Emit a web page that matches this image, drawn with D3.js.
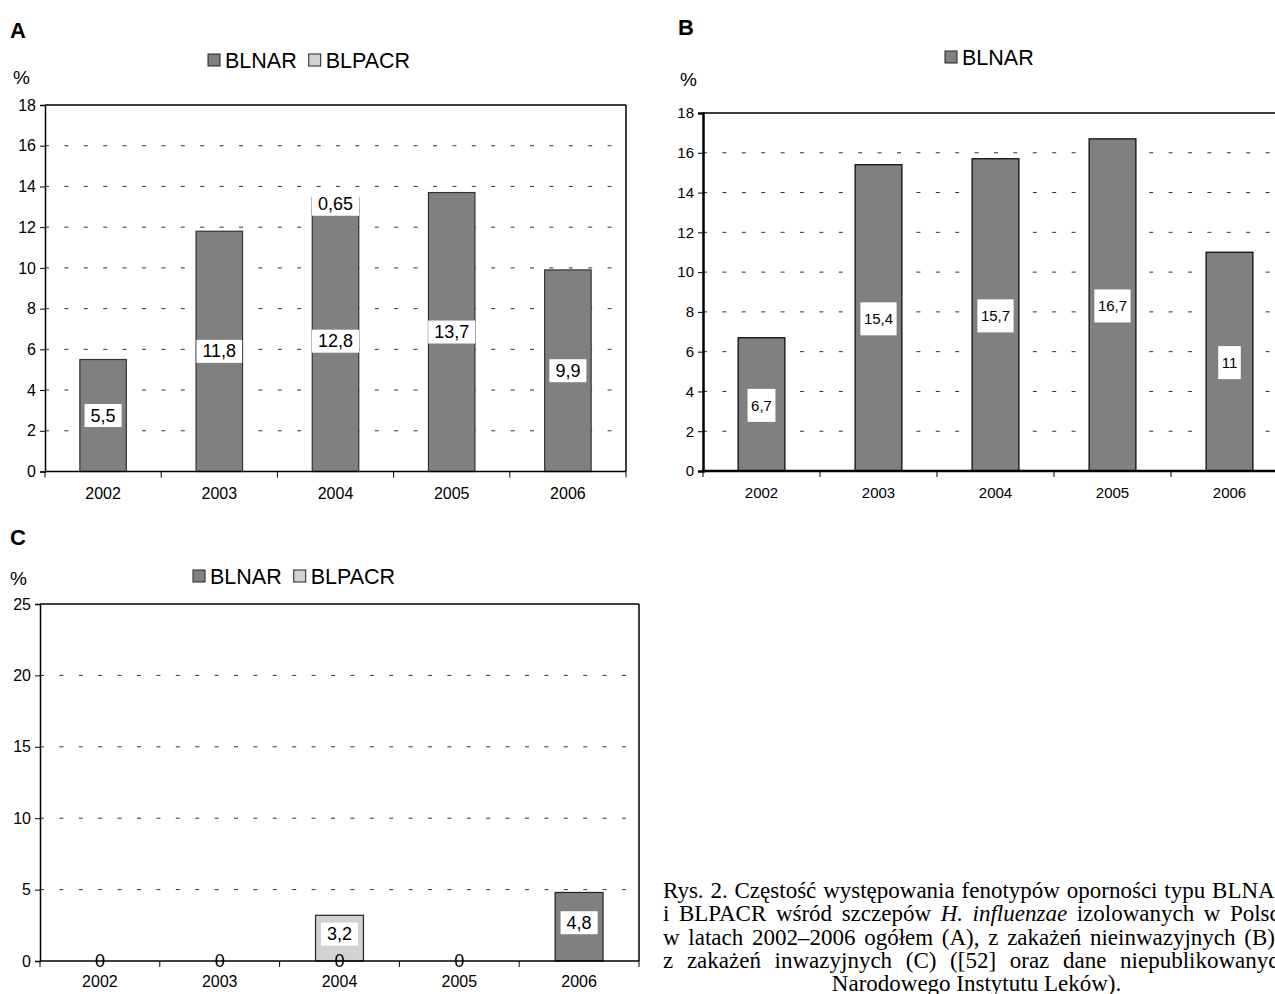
<!DOCTYPE html>
<html><head><meta charset="utf-8">
<script src="https://cdn.jsdelivr.net/npm/d3@7"></script>
<style>
html,body{margin:0;padding:0;background:#fff;overflow:hidden;}
text{font-family:"Liberation Sans",Arial,sans-serif;fill:#000;}
.cap text, text.cap{font-family:"Liberation Serif","Times New Roman",serif;}
</style></head>
<body>
<svg id="c" width="1275" height="994"></svg>
<script>
// ---- data ----
const years = ["2002", "2003", "2004", "2005", "2006"];
const blnarA = [5.5, 11.8, 12.8, 13.7, 9.9];
const blpacrA = [0, 0, 0.65, 0, 0];
const blnarB = [6.7, 15.4, 15.7, 16.7, 11];
const blnarC = [0, 0, 0, 0, 4.8];
const blpacrC = [0, 0, 3.2, 0, 0];
const seriesNames = ["BLNAR", "BLPACR"];
const yTicksAB = [0, 2, 4, 6, 8, 10, 12, 14, 16, 18];
const yTicksC = [0, 5, 10, 15, 20, 25];
const captionLines = [
  [["Rys. 2. Częstość występowania fenotypów oporności typu BLNAR", false]],
  [["i BLPACR wśród szczepów ", false], ["H. influenzae", true], [" izolowanych w Polsce", false]],
  [["w latach 2002–2006 ogółem (A), z zakażeń nieinwazyjnych (B) i", false]],
  [["z zakażeń inwazyjnych (C) ([52] oraz dane niepublikowanych", false]],
  [["Narodowego Instytutu Leków).", false]]
];

const svg = d3.select("#c");
const colors = {BLNAR: "#808080", BLPACR: "#d2d2d2"};
const fmt = v => String(v).replace(".", ",");

function panel(o) {
  const g = svg.append("g");
  const x = d3.scaleBand().domain(years).range([o.x0, o.x1]).paddingInner(0.6).paddingOuter(0.3);
  const y = d3.scaleLinear().domain([0, o.max]).range([o.yb, o.yt]);
  const step = (o.x1 - o.x0) / years.length;

  g.append("text").attr("x", o.letterX).attr("y", o.letterY).attr("font-size", 22)
    .attr("font-weight", "bold").text(o.letter);
  g.append("text").attr("x", o.pctX).attr("y", o.pctY).attr("font-size", 19).text("%");

  // legend
  let lx = o.legX;
  o.legend.forEach(name => {
    g.append("rect").attr("x", lx).attr("y", o.legY - 6).attr("width", 12).attr("height", 12)
      .attr("fill", colors[name]).attr("stroke", "#222").attr("stroke-width", 1);
    const t = g.append("text").attr("x", lx + 17).attr("y", o.legY + 8).attr("font-size", 21.5).text(name);
    lx += 17 + t.node().getComputedTextLength() + 12;
  });

  // gridlines
  g.selectAll(".grid").data(o.ticks.filter(t => t > 0 && t < o.max)).enter().append("line")
    .attr("x1", o.x0).attr("x2", o.x1).attr("y1", d => y(d)).attr("y2", d => y(d))
    .attr("stroke", "#333").attr("stroke-width", 1).attr("stroke-dasharray", "4,15.4");

  // frame top & right
  g.append("line").attr("x1", o.x0).attr("x2", o.x1).attr("y1", y(o.max)).attr("y2", y(o.max))
    .attr("stroke", "#000").attr("stroke-width", 1.5);
  g.append("line").attr("x1", o.x1).attr("x2", o.x1).attr("y1", y(o.max)).attr("y2", y(0))
    .attr("stroke", "#000").attr("stroke-width", 1.5);

  // bars
  years.forEach((yr, i) => {
    let base = 0;
    o.series.forEach(s => {
      const v = s.values[i];
      if (v > 0) {
        g.append("rect").attr("x", x(yr)).attr("width", x.bandwidth())
          .attr("y", y(base + v)).attr("height", y(base) - y(base + v))
          .attr("fill", colors[s.name]).attr("stroke", o.barStroke).attr("stroke-width", 1.2);
      }
      s.mid = s.mid || [];
      s.mid[i] = base + v / 2;
      base += v;
    });
  });

  // axes
  const ya = d3.axisLeft(y).tickValues(o.ticks).tickSize(5).tickPadding(4).tickFormat(d3.format("d"));
  const yg = g.append("g").attr("transform", `translate(${o.x0},0)`).call(ya);
  yg.select(".domain").attr("stroke", "#000").attr("stroke-width", o.axisW);
  yg.selectAll("text").attr("font-size", o.tickFont).attr("font-family", '"Liberation Sans",Arial,sans-serif');

  g.append("line").attr("x1", o.x0).attr("x2", o.x1).attr("y1", y(0)).attr("y2", y(0))
    .attr("stroke", "#000").attr("stroke-width", o.axisW);
  g.selectAll(".xt").data(d3.range(years.length + 1)).enter().append("line")
    .attr("x1", d => o.x0 + d * step).attr("x2", d => o.x0 + d * step)
    .attr("y1", y(0)).attr("y2", y(0) + 6).attr("stroke", "#000");
  const xa = d3.axisBottom(x).tickSize(0).tickPadding(o.catPad);
  const xg = g.append("g").attr("transform", `translate(0,${y(0)})`).call(xa);
  xg.select(".domain").remove();
  xg.selectAll("text").attr("font-size", o.tickFont).attr("font-family", '"Liberation Sans",Arial,sans-serif');

  // data labels
  years.forEach((yr, i) => {
    o.series.forEach(s => {
      if (!s.labels[i]) return;
      const v = s.values[i];
      const cx = x(yr) + x.bandwidth() / 2;
      const cy = y(s.mid[i]) - (v > 0 ? o.labShift : 0);
      const t = g.append("text").attr("x", cx).attr("y", cy).attr("text-anchor", "middle")
        .attr("dominant-baseline", "central").attr("font-size", o.labFont).text(fmt(v));
      if (v > 0) {
        const w = t.node().getComputedTextLength();
        g.insert("rect", () => t.node()).attr("x", cx - w / 2 - o.padX).attr("width", w + 2 * o.padX)
          .attr("y", cy - o.boxH / 2).attr("height", o.boxH).attr("fill", "#fff");
      }
    });
  });
}

panel({
  letter: "A", letterX: 10, letterY: 38, pctX: 13, pctY: 84,
  legend: ["BLNAR", "BLPACR"], legX: 208, legY: 60,
  x0: 45, x1: 626, yb: 471.5, yt: 105, max: 18, ticks: yTicksAB,
  series: [{name: "BLNAR", values: blnarA, labels: blnarA.map(() => true)},
           {name: "BLPACR", values: blpacrA, labels: blpacrA.map(v => v > 0)}],
  barStroke: "#333", axisW: 1.5, tickFont: 16, labFont: 18, padX: 6, boxH: 23, catPad: 16, labShift: 0
});
panel({
  letter: "B", letterX: 678, letterY: 35, pctX: 680, pctY: 86,
  legend: ["BLNAR"], legX: 945, legY: 57,
  x0: 703, x1: 1288, yb: 471, yt: 113, max: 18, ticks: yTicksAB,
  series: [{name: "BLNAR", values: blnarB, labels: blnarB.map(() => true)}],
  barStroke: "#000", axisW: 2.5, tickFont: 15, labFont: 15, padX: 3.5, boxH: 33, catPad: 16, labShift: -1
});
panel({
  letter: "C", letterX: 10, letterY: 545, pctX: 10, pctY: 585,
  legend: ["BLNAR", "BLPACR"], legX: 193, legY: 576,
  x0: 40, x1: 639, yb: 961, yt: 604, max: 25, ticks: yTicksC,
  series: [{name: "BLNAR", values: blnarC, labels: blnarC.map(() => true)},
           {name: "BLPACR", values: blpacrC, labels: blpacrC.map(v => v > 0)}],
  barStroke: "#222", axisW: 1.5, tickFont: 16, labFont: 18, padX: 6, boxH: 23, catPad: 15, labShift: 4
});

// caption (justified column, partly beyond the right page edge as in the source)
(function () {
  const left = 663, right = 1290, top = 898, lh = 23.3;
  const cg = svg.append("g").attr("class", "cap");
  const probe = cg.append("text").attr("font-size", 20).text(captionLines[0][0][0].replace(/ /g, ""));
  const fs = Math.min(23, 20 * (right - left - 34) / probe.node().getComputedTextLength());
  probe.remove();
  captionLines.forEach((line, li) => {
    const words = [];
    line.forEach(([txt, it]) => txt.split(" ").filter(w => w.length).forEach(w => words.push([w, it])));
    const yb = top + li * lh;
    const nodes = words.map(([w, it]) => cg.append("text").attr("font-size", fs)
      .attr("font-style", it ? "italic" : "normal").attr("y", yb).text(w));
    const widths = nodes.map(n => n.node().getComputedTextLength());
    const sum = d3.sum(widths);
    if (li === captionLines.length - 1) {
      const sp = fs * 0.25;
      let xx = (left + right) / 2 - (sum + sp * (words.length - 1)) / 2;
      nodes.forEach((n, k) => { n.attr("x", xx); xx += widths[k] + sp; });
    } else {
      const gap = (right - left - sum) / (words.length - 1);
      let xx = left;
      nodes.forEach((n, k) => { n.attr("x", xx); xx += widths[k] + gap; });
    }
  });
})();
</script>
</body></html>
